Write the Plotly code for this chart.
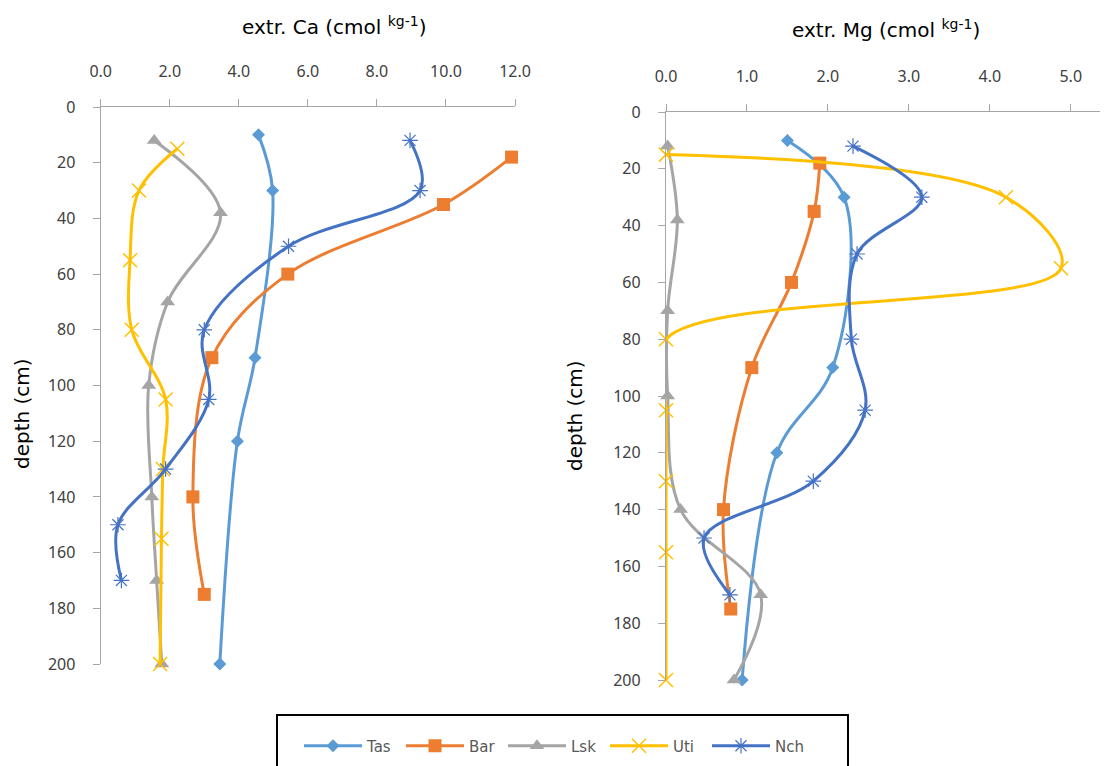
import plotly.graph_objects as go

# ---- data ----
series_names = ["Tas", "Bar", "Lsk", "Uti", "Nch"]
colors = ["#5B9BD5", "#ED7D31", "#A5A5A5", "#FFC000", "#4472C4"]

tas_depth = [10, 30, 90, 120, 200]
bar_depth = [18, 35, 60, 90, 140, 175]
lsk_depth = [12, 38, 70, 100, 140, 170, 200]
uti_depth = [15, 30, 55, 80, 105, 130, 155, 200]
nch_depth = [12, 30, 50, 80, 105, 130, 150, 170]

tas_ca = [4.57, 4.98, 4.47, 3.96, 3.45]
bar_ca = [11.9, 9.93, 5.42, 3.22, 2.67, 3.0]
lsk_ca = [1.55, 3.47, 1.94, 1.39, 1.48, 1.62, 1.77]
uti_ca = [2.22, 1.11, 0.85, 0.9, 1.88, 1.8, 1.76, 1.72]
nch_ca = [8.96, 9.25, 5.44, 3.0, 3.13, 1.88, 0.5, 0.6]

tas_mg = [1.5, 2.2, 2.06, 1.37, 0.94]
bar_mg = [1.9, 1.83, 1.55, 1.06, 0.71, 0.8]
lsk_mg = [0.02, 0.14, 0.02, 0.02, 0.18, 1.17, 0.84]
uti_mg = [0.0, 4.2, 4.88, 0.0, 0.0, 0.0, 0.0, 0.0]
nch_mg = [2.31, 3.16, 2.36, 2.29, 2.46, 1.82, 0.47, 0.79]

depth_ticks = [0, 20, 40, 60, 80, 100, 120, 140, 160, 180, 200]
ca_ticks = [0, 2, 4, 6, 8, 10, 12]
ca_tick_text = ["0.0", "2.0", "4.0", "6.0", "8.0", "10.0", "12.0"]
mg_ticks = [0, 1, 2, 3, 4, 5]
mg_tick_text = ["0.0", "1.0", "2.0", "3.0", "4.0", "5.0"]

ca_title = "extr. Ca (cmol <sup>kg-1</sup>)"
mg_title = "extr. Mg (cmol <sup>kg-1</sup>)"
depth_title = "depth (cm)"

# ---- styles ----
OFF = 8  # default page body margin
W, H = 1108 - OFF, 766 - OFF
FONT = "DejaVu Sans"
TICK_FONT = "Noto Sans"
symbols = ["diamond", "square", "triangle-up", "x-thin-open", "asterisk-open"]
sizes = [10, 13, 13, 14, 13]
open_widths = {3: 1.5, 4: 1.2}

depths = [tas_depth, bar_depth, lsk_depth, uti_depth, nch_depth]
ca_vals = [tas_ca, bar_ca, lsk_ca, uti_ca, nch_ca]
mg_vals = [tas_mg, bar_mg, lsk_mg, uti_mg, nch_mg]

fig = go.Figure()

def marker(i):
    m = dict(symbol=symbols[i], size=sizes[i], color=colors[i])
    if i in open_widths:
        m["line"] = dict(width=open_widths[i], color=colors[i])
    else:
        m["line"] = dict(width=0)
    return m

for i, name in enumerate(series_names):
    fig.add_trace(go.Scatter(
        x=ca_vals[i], y=depths[i], name=name, mode="lines+markers",
        line=dict(color=colors[i], width=3, shape="spline", smoothing=1.0),
        marker=marker(i), cliponaxis=False, showlegend=True,
        xaxis="x", yaxis="y", legendgroup=name,
    ))
for i, name in enumerate(series_names):
    fig.add_trace(go.Scatter(
        x=mg_vals[i], y=depths[i], name=name, mode="lines+markers",
        line=dict(color=colors[i], width=3, shape="spline", smoothing=1.0),
        marker=marker(i), cliponaxis=False, showlegend=False,
        xaxis="x2", yaxis="y2", legendgroup=name,
    ))

axis_line = "#A6A6A6"
tick_font = dict(family=TICK_FONT, size=16, color="#404040")

def px_x(p):
    return (p - OFF) / W

def px_y(p):
    return 1 - (p - OFF) / H

common_x = dict(side="top", showgrid=False, zeroline=False, showline=True,
                linecolor=axis_line, linewidth=1.3, ticks="outside", ticklen=7,
                tickcolor=axis_line, tickwidth=1.3, tickfont=tick_font,
                ticklabelstandoff=15, automargin=False, fixedrange=True)
common_y = dict(showgrid=False, zeroline=False, showline=True,
                linecolor=axis_line, linewidth=1.3, ticks="outside", ticklen=7,
                tickcolor=axis_line, tickwidth=1.3, tickfont=tick_font,
                tickvals=depth_ticks, range=[200, 0], ticklabelstandoff=14,
                automargin=False, fixedrange=True)

fig.update_layout(
    width=W, height=H,
    margin=dict(l=0, r=0, t=0, b=0),
    paper_bgcolor="white", plot_bgcolor="white",
    font=dict(family=FONT, color="#404040"),
    xaxis=dict(common_x, domain=[px_x(100.7), px_x(515)], range=[0, 12],
               tickvals=ca_ticks, ticktext=ca_tick_text, anchor="y"),
    yaxis=dict(common_y, domain=[px_y(664), px_y(107)], anchor="x"),
    xaxis2=dict(common_x, domain=[px_x(666), 1.0], range=[0, 5.46],
                tickvals=mg_ticks, ticktext=mg_tick_text, anchor="y2"),
    yaxis2=dict(common_y, domain=[px_y(680), px_y(112)], anchor="x2"),
    legend=dict(orientation="h", x=px_x(299), xanchor="left",
                y=px_y(746), yanchor="middle", borderwidth=0,
                bgcolor="rgba(0,0,0,0)", itemwidth=58,
                font=dict(family=FONT, size=15, color="#595959"),
                entrywidth=29, entrywidthmode="pixels",
                itemclick=False, itemdoubleclick=False),
    showlegend=True,
    shapes=[dict(type="rect", xref="paper", yref="paper",
                 x0=px_x(277), x1=px_x(848), y0=px_y(800), y1=px_y(715),
                 line=dict(color="black", width=2), fillcolor="rgba(0,0,0,0)",
                 layer="below")],
    annotations=[
        dict(text=ca_title, x=px_x(334), y=px_y(26), xref="paper", yref="paper",
             showarrow=False, xanchor="center", yanchor="middle",
             font=dict(family=FONT, size=20, color="black")),
        dict(text=mg_title, x=px_x(886), y=px_y(29), xref="paper", yref="paper",
             showarrow=False, xanchor="center", yanchor="middle",
             font=dict(family=FONT, size=20, color="black")),
        dict(text=depth_title, x=px_x(22), y=px_y(414), xref="paper", yref="paper",
             showarrow=False, textangle=-90, xanchor="center", yanchor="middle",
             font=dict(family=FONT, size=20, color="black")),
        dict(text=depth_title, x=px_x(575), y=px_y(416), xref="paper", yref="paper",
             showarrow=False, textangle=-90, xanchor="center", yanchor="middle",
             font=dict(family=FONT, size=20, color="black")),
    ],
)

fig.write_html("out.html", config={"displayModeBar": False})
